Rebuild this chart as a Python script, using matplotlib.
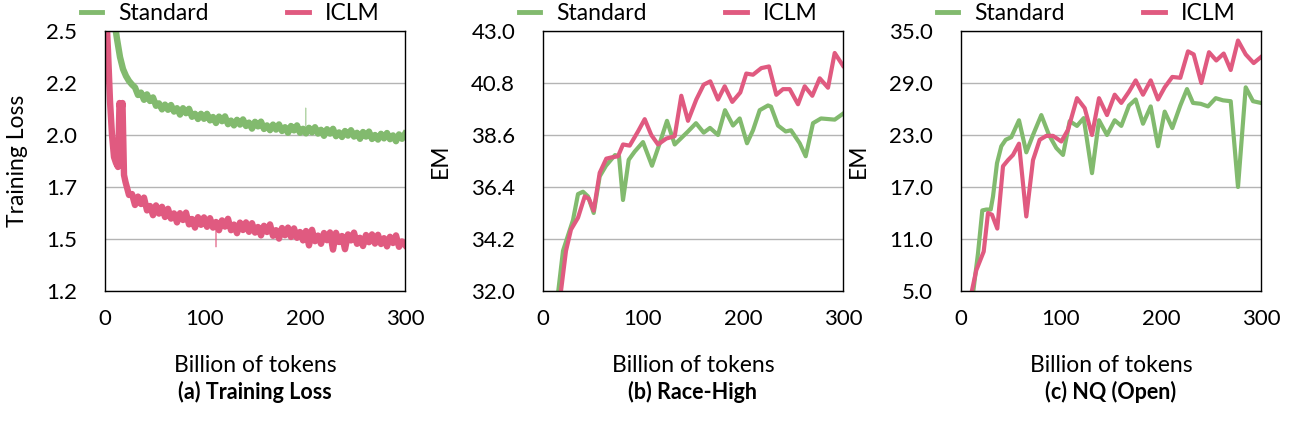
import numpy as np
import matplotlib.pyplot as plt

GREEN = "#82ba6e"
PINK = "#e05a80"
GRID = "#b4b4b4"

plt.rcParams["font.family"] = ["Lato", "DejaVu Sans"]

loss_x_std = np.arange(3, 301, 3)
loss_std = [
    3.30, 2.85, 2.56, 2.46, 2.37, 2.31, 2.275, 2.25, 2.232, 2.218,
    2.180, 2.192, 2.156, 2.183, 2.150, 2.168, 2.126, 2.138, 2.108, 2.132,
    2.106, 2.130, 2.097, 2.114, 2.082, 2.114, 2.089, 2.111, 2.071, 2.086,
    2.060, 2.086, 2.061, 2.086, 2.053, 2.070, 2.040, 2.072, 2.049, 2.073,
    2.034, 2.052, 2.028, 2.056, 2.032, 2.058, 2.025, 2.042, 2.012, 2.046,
    2.023, 2.047, 2.010, 2.028, 2.004, 2.032, 2.007, 2.033, 2.000, 2.019,
    1.991, 2.025, 2.003, 2.028, 1.991, 2.011, 1.988, 2.016, 1.993, 2.019,
    1.987, 2.006, 1.976, 2.009, 1.987, 2.011, 1.974, 1.993, 1.970, 2.000,
    1.977, 2.004, 1.972, 1.991, 1.961, 1.995, 1.972, 1.997, 1.960, 1.980,
    1.957, 1.986, 1.963, 1.990, 1.959, 1.978, 1.949, 1.983, 1.961, 1.986,
]
loss_x_iclm = [1, 3, 5, 7, 9, 11, 13, 14.5, 16, 17.5, 19, 20.5] + list(range(21, 301, 3))[1:]
loss_iclm = [
    2.62, 2.40, 2.15, 1.98, 1.87, 1.84, 1.82, 2.14, 2.09, 2.14, 1.78, 1.745,
    1.680, 1.685, 1.630, 1.672, 1.635, 1.667, 1.603, 1.625, 1.579,
    1.628, 1.587, 1.621, 1.570, 1.611, 1.562, 1.588, 1.543, 1.589, 1.555,
    1.592, 1.533, 1.560, 1.517, 1.569, 1.531, 1.568, 1.521, 1.564, 1.517,
    1.545, 1.504, 1.553, 1.522, 1.561, 1.504, 1.532, 1.489, 1.542, 1.505,
    1.543, 1.496, 1.539, 1.492, 1.520, 1.478, 1.526, 1.495, 1.533, 1.476,
    1.504, 1.462, 1.515, 1.479, 1.517, 1.470, 1.513, 1.466, 1.495, 1.453,
    1.500, 1.428, 1.506, 1.449, 1.477, 1.436, 1.490, 1.454, 1.493, 1.407,
    1.491, 1.445, 1.475, 1.409, 1.483, 1.453, 1.492, 1.436, 1.466, 1.425,
    1.480, 1.444, 1.483, 1.437, 1.481, 1.435, 1.464, 1.423, 1.471, 1.440,
    1.478, 1.421, 1.448, 1.430,
]
# lone outlier samples (drawn thin)
spike_std_x = [200.5, 200.7, 200.9]
spike_std = [2.02, 2.115, 2.02]
spike_iclm_x = [110.8, 111.0, 111.2]
spike_iclm = [1.52, 1.42, 1.52]

# ---- (b) Race-High EM ----
race_x_std = [15, 20, 30, 35, 40, 45, 50.7, 56.7, 63, 72, 76, 80, 85.7, 91.7, 100,
              109, 116.7, 124, 131.7, 145, 153, 160.7, 167, 175, 182, 190, 196.7,
              204, 210, 216.7, 225, 228, 235, 242.7, 248, 256.7, 262.7, 270, 278,
              291.7, 300]
race_std = [31.9, 33.7, 35.0, 36.1, 36.2, 36.0, 35.3, 36.85, 37.3, 37.75, 37.7, 35.85,
            37.55, 37.9, 38.3, 37.3, 38.25, 39.2, 38.2, 38.75, 39.1, 38.7, 38.9, 38.6,
            39.65, 39.0, 39.3, 38.25, 38.8, 39.65, 39.85, 39.8, 39.0, 38.75, 38.8,
            38.25, 37.7, 39.1, 39.3, 39.25, 39.5]
race_x_iclm = [17.7, 23, 28, 35, 41.7, 46, 50.7, 56.7, 63.3, 68.3, 75, 80, 86.7, 95,
               101.7, 108.3, 115, 123.3, 131.7, 138.3, 145, 153.3, 160.7, 167.3, 175,
               181.7, 189.3, 197.3, 203.3, 210, 218.3, 226, 233.3, 240, 246.7, 255,
               261.7, 269.3, 276.7, 285, 291.7, 300]
race_iclm = [31.9, 33.7, 34.6, 35.1, 36.0, 35.9, 35.4, 37.0, 37.6, 37.65, 37.7, 38.2,
             38.15, 38.75, 39.27, 38.6, 38.2, 38.45, 38.55, 40.26, 39.2, 40.1, 40.73,
             40.87, 40.1, 40.66, 40.0, 40.4, 41.2, 41.15, 41.43, 41.5, 40.3, 40.54,
             40.54, 39.9, 40.66, 40.26, 41.0, 40.6, 42.07, 41.53]

# ---- (c) NQ (Open) EM ----
nq_x_std = [12, 17, 21.3, 25.3, 29.7, 32, 36, 40.3, 44.7, 50.3, 58, 65.3, 72, 80.3, 88,
            95.3, 102, 108.7, 116, 122.7, 131, 138, 146, 153.7, 160.3, 168, 174.7, 182,
            189.7, 197, 203.7, 211.3, 219.3, 226, 232, 239.7, 247, 254.7, 262, 269.7,
            277, 284.7, 292, 300]
nq_std = [4.7, 9.35, 14.3, 14.4, 14.4, 15.9, 19.75, 21.7, 22.45, 22.75, 24.7, 21.0,
          23.0, 25.3, 23.0, 21.5, 20.7, 24.6, 24.05, 24.95, 18.6, 24.7, 23.0, 24.7,
          24.05, 26.4, 27.1, 24.3, 26.3, 21.7, 25.7, 23.8, 26.4, 28.3, 26.7, 26.6,
          26.3, 27.25, 27.0, 26.9, 17.0, 28.5, 26.9, 26.7]
nq_x_iclm = [10.3, 15.3, 22.7, 27, 31, 36.3, 42, 47, 52, 58, 65.3, 72, 78.7, 85.3, 92,
             100.3, 107, 116, 123.7, 131, 138, 146, 153.7, 160.3, 168, 174.7, 182,
             189.7, 197, 203.7, 211.3, 219.3, 227, 232.7, 240.3, 248, 255.3, 262.7,
             269.7, 277, 284.7, 292.7, 300]
nq_iclm = [4.7, 7.4, 9.55, 14.0, 13.8, 12.2, 19.4, 20.1, 20.7, 22.0, 13.6, 20.1, 22.45,
           22.9, 22.9, 22.25, 23.6, 27.25, 26.1, 23.0, 27.25, 25.3, 27.65, 26.7, 28.0,
           29.3, 27.65, 29.3, 27.1, 28.5, 29.7, 29.6, 32.65, 32.3, 29.0, 32.55, 31.6,
           32.4, 30.5, 33.9, 32.3, 31.3, 32.0]

panels = [
    dict(ylim=(1.2, 2.5), ylabel="Training Loss", caption="(a) Training Loss",
         ylab_x=-0.293),
    dict(ylim=(32.0, 43.0), ylabel="EM", caption="(b) Race-High", ylab_x=-0.343),
    dict(ylim=(5.0, 35.0), ylabel="EM", caption="(c) NQ (Open)", ylab_x=-0.343),
]
lefts = [105, 543, 961]

W, H = 1308, 422
fig = plt.figure(figsize=(W / 100, H / 100), dpi=100)

LW = 3.0
for i, (cfg, left) in enumerate(zip(panels, lefts)):
    ax = fig.add_axes([left / W, (H - 291) / H, 300 / W, 260 / H])
    lo, hi = cfg["ylim"]
    ticks = np.linspace(lo, hi, 6)
    ax.set_ylim(lo, hi)
    ax.set_xlim(0, 300)
    ax.set_yticks(ticks)
    ax.set_yticklabels([f"{t:.1f}" for t in ticks])
    ax.set_xticks([0, 100, 200, 300])
    ax.yaxis.grid(True, color=GRID, lw=1.0)
    ax.set_axisbelow(True)
    ax.tick_params(length=0, labelsize=16, pad=20)
    ax.tick_params(axis="x", pad=13)
    for s in ax.spines.values():
        s.set_linewidth(1.0)
        s.set_color("black")

    if i == 0:
        ax.plot(loss_x_std, loss_std, color=GREEN, lw=4.6, label="Standard",
                solid_joinstyle="round")
        ax.plot(loss_x_iclm, loss_iclm, color=PINK, lw=4.6, label="ICLM",
                solid_joinstyle="round")
        ax.plot(spike_std_x, spike_std, color=GREEN, lw=0.8, alpha=0.6)
        ax.plot(spike_iclm_x, spike_iclm, color=PINK, lw=0.8, alpha=0.6)
    elif i == 1:
        ax.plot(race_x_std, race_std, color=GREEN, lw=LW, label="Standard",
                solid_joinstyle="round")
        ax.plot(race_x_iclm, race_iclm, color=PINK, lw=LW, label="ICLM",
                solid_joinstyle="round")
    else:
        ax.plot(nq_x_std, nq_std, color=GREEN, lw=LW, label="Standard",
                solid_joinstyle="round")
        ax.plot(nq_x_iclm, nq_iclm, color=PINK, lw=LW, label="ICLM",
                solid_joinstyle="round")

    ax.set_xlabel("Billion of tokens", fontsize=16.5)
    ax.xaxis.set_label_coords(0.5, (291 - 366) / 260)
    ax.xaxis.label.set_va("center")
    ax.set_ylabel(cfg["ylabel"], fontsize=16.5, va="center")
    ax.yaxis.set_label_coords(cfg["ylab_x"], 0.5)
    ax.text(0.5, (291 - 392) / 260, cfg["caption"], transform=ax.transAxes,
            ha="center", va="center", fontsize=15.5, fontweight="bold")

    leg = ax.legend(loc="center", bbox_to_anchor=(0.417, (291 - 14) / 260), ncol=2,
                    frameon=False, fontsize=16.5, handlelength=0.95, handletextpad=0.7,
                    columnspacing=3.4, borderpad=0, borderaxespad=0)
    for h in leg.get_lines():
        h.set_linewidth(3.5)

fig.savefig("out.png", dpi=100)
